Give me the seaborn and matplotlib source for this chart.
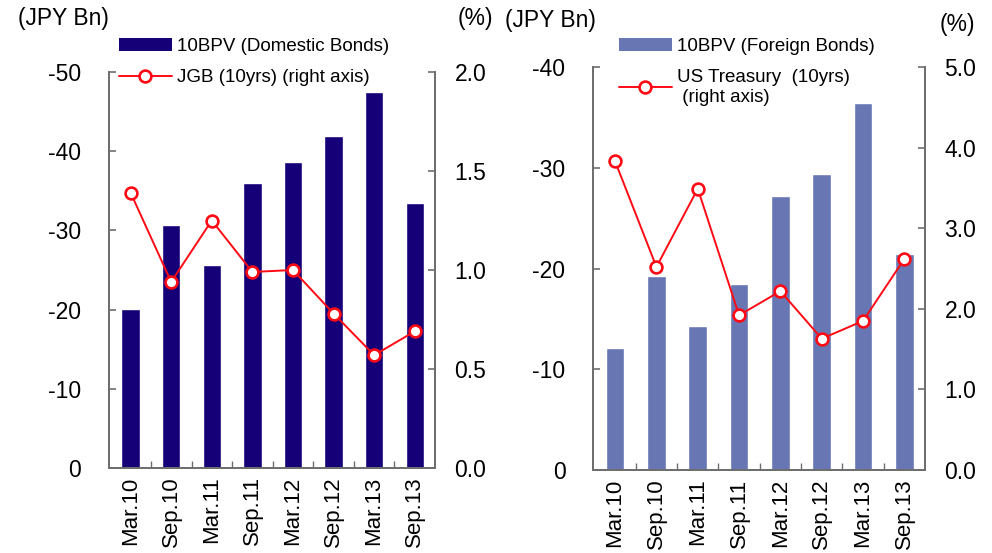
import numpy as np
import matplotlib
matplotlib.use("Agg")
import matplotlib.pyplot as plt
import seaborn as sns
from matplotlib.lines import Line2D
from matplotlib.patches import Patch
from matplotlib.ticker import FixedLocator

# Data
periods = ["Mar.10", "Sep.10", "Mar.11", "Sep.11", "Mar.12", "Sep.12", "Mar.13", "Sep.13"]
bpv_domestic = [-20.1, -30.7, -25.6, -36.0, -38.6, -41.9, -47.5, -33.5]
jgb_10y = [1.39, 0.94, 1.25, 0.99, 1.00, 0.78, 0.57, 0.69]
bpv_foreign = [-12.1, -19.3, -14.3, -18.5, -27.2, -29.4, -36.4, -21.4]
ust_10y = [3.83, 2.52, 3.49, 1.92, 2.22, 1.63, 1.85, 2.62]

left_ticks_dom = [0, -10, -20, -30, -40, -50]
right_ticks_dom = [0.0, 0.5, 1.0, 1.5, 2.0]
left_ticks_for = [0, -10, -20, -30, -40]
right_ticks_for = [0.0, 1.0, 2.0, 3.0, 4.0, 5.0]

sns.set_theme(style="white")
plt.rcParams["font.family"] = ["Liberation Sans", "DejaVu Sans"]
plt.rcParams["axes.unicode_minus"] = False
plt.rcParams["text.color"] = "black"
plt.rcParams["xtick.labelcolor"] = "black"
plt.rcParams["ytick.labelcolor"] = "black"

NAVY = "#150078"
STEEL = "#6877B4"
RED = "#FF0A14"
SPINE = "#6E6E6E"

fig = plt.figure(figsize=(9.92, 5.53), dpi=100)
ax_l = fig.add_axes([0.110, 0.1537, 0.3285, 0.7161])
ax_r = fig.add_axes([0.598, 0.150, 0.3345, 0.7288])

TICK_FS = 16.5
LEG_FS = 13.5
MS = 8.5
MEW = 1.9
LW = 1.4


def draw_panel(ax, bars, bar_color, rates, yticks, rticks, ylim_top, rlim_top, lpad, rpad):
    pos = np.arange(len(periods))
    sns.barplot(x=periods, y=bars, color=bar_color, saturation=1, width=0.45, ax=ax)
    ax.set_ylim(0, ylim_top)
    ax.set_xlim(-0.53, len(periods) - 0.5)
    ax.set_yticks(yticks)
    ax.set_yticklabels([f"{v:d}" for v in yticks])
    ax.set_xlabel("")
    ax.set_ylabel("")

    ax2 = ax.twinx()
    sns.lineplot(x=pos, y=rates, ax=ax2, color=RED, linewidth=LW, marker="o",
                 markersize=MS, markerfacecolor="white", markeredgecolor=RED,
                 markeredgewidth=MEW, zorder=5)
    ax2.set_ylim(0, rlim_top)
    ax2.set_yticks(rticks)
    ax2.set_yticklabels([f"{v:.1f}" for v in rticks])
    ax2.set_ylabel("")

    for a in (ax, ax2):
        a.spines["top"].set_visible(False)
        for s in ("left", "right", "bottom"):
            a.spines[s].set_color(SPINE)
            a.spines[s].set_linewidth(1.3)
        a.grid(False)

    ax.tick_params(axis="y", which="major", direction="in", length=5, width=1.2,
                   color=SPINE, labelcolor="black", labelsize=TICK_FS, pad=lpad, left=True)
    ax2.tick_params(axis="y", which="major", direction="in", length=5, width=1.2,
                    color=SPINE, labelcolor="black", labelsize=TICK_FS, pad=rpad, right=True)
    ax.tick_params(axis="x", which="major", length=0, labelsize=TICK_FS - 0.5,
                   labelcolor="black", labelrotation=90, pad=6)
    ax.xaxis.set_minor_locator(FixedLocator(pos[:-1] + 0.5))
    ax.tick_params(axis="x", which="minor", direction="in", length=5, width=1.0,
                   color=SPINE, bottom=True)
    return ax2


draw_panel(ax_l, bpv_domestic, NAVY, jgb_10y, left_ticks_dom, right_ticks_dom,
           -50, 2.0, 20, 14)
draw_panel(ax_r, bpv_foreign, STEEL, ust_10y, left_ticks_for, right_ticks_for,
           -40, 5.0, 20, 14)

# Legends
leg_kw = dict(frameon=False, fontsize=LEG_FS, handlelength=2.8, handletextpad=0.3,
              borderaxespad=0, borderpad=0, loc="upper left")


def rate_handle():
    return Line2D([], [], color=RED, lw=LW, marker="o", ms=MS, mfc="white",
                  mec=RED, mew=MEW)


h_dom = [Patch(facecolor=NAVY, edgecolor="none"), rate_handle()]
fig.legend(h_dom, ["10BPV (Domestic Bonds)", "JGB (10yrs) (right axis)"],
           bbox_to_anchor=(119 / 992, 1 - 38 / 553), labelspacing=0.75, **leg_kw)

h_for = [Patch(facecolor=STEEL, edgecolor="none"), rate_handle()]
fig.legend(h_for, ["10BPV (Foreign Bonds)", "US Treasury  (10yrs)\n (right axis)"],
           bbox_to_anchor=(619 / 992, 1 - 38 / 553), labelspacing=0.75, **leg_kw)

# Axis unit captions
fig.text(18 / 992, 1 - 18 / 553, "(JPY Bn)", fontsize=TICK_FS, va="center", ha="left")
fig.text(458 / 992, 1 - 18 / 553, "(%)", fontsize=TICK_FS, va="center", ha="left")
fig.text(505 / 992, 1 - 21 / 553, "(JPY Bn)", fontsize=TICK_FS, va="center", ha="left")
fig.text(940 / 992, 1 - 24 / 553, "(%)", fontsize=TICK_FS, va="center", ha="left")

fig.savefig("out.png", dpi=100)
